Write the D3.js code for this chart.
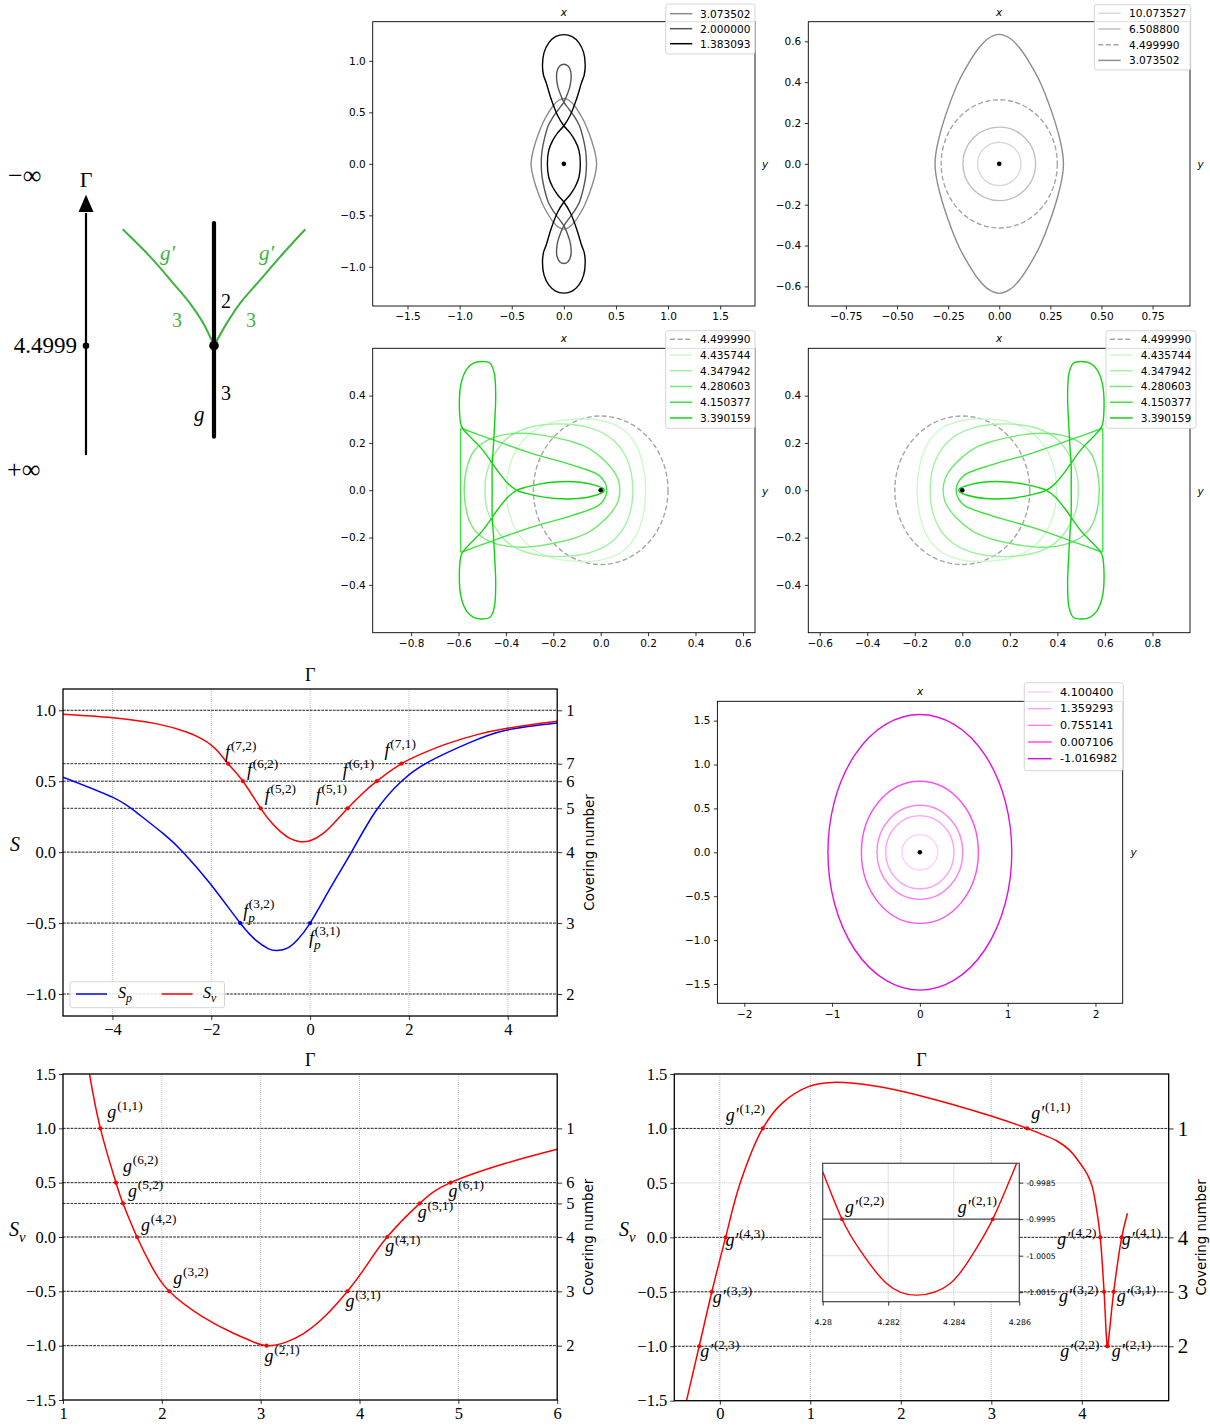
<!DOCTYPE html>
<html>
<head>
<meta charset="utf-8">
<script src="https://cdn.jsdelivr.net/npm/d3@7"></script>
<style>
  html, body { margin: 0; padding: 0; background: #fff; }
  svg { display: block; }
</style>
</head>
<body>
<svg id="fig" width="1210" height="1427"></svg>
<script>
const SERIF = "'Liberation Serif', 'Times New Roman', serif";
const SANS = "'DejaVu Sans', Verdana, sans-serif";

// ================= data =================

// Branch diagram: u horizontal, v vertical (bifurcation at v = 0)
const branchLeft  = [[-1, 1], [-0.70, 0.765], [-0.446, 0.536], [-0.263, 0.364], [-0.117, 0.192], [0, 0]];
const branchRight = [[1, 1], [0.759, 0.794], [0.504, 0.564], [0.285, 0.364], [0.139, 0.192], [0, 0]];
const trunkV = [-0.782, 1.054];
const gammaAxisU = -1.402;
const gammaAxisV = [-0.94, 1.297];
const gammaArrowBaseV = 1.149;
const gammaBifurcationLabel = "4.4999";

// Grey family (quarter curves from the top point to the y = 0 crossing)
const orbit3073502 = [[0, 0.634], [0.052, 0.615], [0.101, 0.566], [0.150, 0.492], [0.199, 0.402],
  [0.248, 0.279], [0.289, 0.149], [0.310, 0.051], [0.314, 0]];
const orbit2000000 = [[0, 0.967], [0.04, 0.95], [0.065, 0.9], [0.07, 0.84], [0.06, 0.76], [0.035, 0.68],
  [0, 0.6], [-0.05, 0.53], [-0.1, 0.46], [-0.148, 0.375], [-0.185, 0.25], [-0.21, 0.12], [-0.217, 0]];
const orbit1383093 = [[0, 1.255], [0.08, 1.235], [0.145, 1.175], [0.19, 1.08], [0.205, 0.96], [0.195, 0.86],
  [0.17, 0.79], [0.122, 0.63], [0.06, 0.47], [0, 0.37], [-0.06, 0.3], [-0.11, 0.22], [-0.145, 0.13], [-0.158, 0]];
// near-circular orbits: semi-axes [rx, ry]
const orbit10073527 = [0.106, 0.106];
const orbit6508800 = [0.178, 0.18];
const orbit4499990 = [0.284, 0.314];

// Green family (upper halves, right end -> left end)
const orbit4435744 = [[0.19, 0], [0.18, 0.1], [0.15, 0.19], [0.09, 0.26], [0.0, 0.295], [-0.11, 0.30],
  [-0.21, 0.285], [-0.29, 0.245], [-0.35, 0.18], [-0.385, 0.1], [-0.397, 0]];
const orbit4347942 = [[0.135, 0], [0.125, 0.09], [0.09, 0.17], [0.03, 0.23], [-0.05, 0.265], [-0.14, 0.279],
  [-0.23, 0.278], [-0.32, 0.26], [-0.40, 0.215], [-0.455, 0.14], [-0.482, 0.07], [-0.488, 0]];
const orbit4280603 = [[0.081, 0], [0.072, 0.05], [0.046, 0.093], [0.0, 0.14], [-0.052, 0.178], [-0.12, 0.205],
  [-0.193, 0.223], [-0.26, 0.235], [-0.333, 0.241], [-0.42, 0.232], [-0.49, 0.205], [-0.535, 0.165],
  [-0.562, 0.105], [-0.576, 0]];
// Γ = 4.150377: upper tongue (corner -> tip) and its straight back edge
const orbit4150377 = [[-0.589, 0.262], [-0.474, 0.22], [-0.291, 0.156], [-0.122, 0.107], [-0.01, 0.065],
  [0.019, 0.03], [0.026, 0]];
const orbit4150377Edge = [[-0.591, -0.262], [-0.591, 0.262]];
// Γ = 3.390159: full closed path
const orbit3390159 = [
  [0.015, 0], [0.011, 0.007], [-0.025, 0.022], [-0.095, 0.035], [-0.193, 0.035], [-0.265, 0.025], [-0.315, 0.013],
  [-0.354, 0], [-0.39, -0.027], [-0.432, -0.078], [-0.502, -0.175], [-0.558, -0.233], [-0.587, -0.27], [-0.596, -0.34],
  [-0.589, -0.452], [-0.565, -0.512], [-0.537, -0.537], [-0.502, -0.544],
  [-0.467, -0.537], [-0.449, -0.495], [-0.443, -0.396], [-0.446, -0.311], [-0.452, -0.2], [-0.458, -0.1], [-0.458, 0],
  [-0.458, 0.1], [-0.452, 0.2], [-0.446, 0.311], [-0.443, 0.396], [-0.449, 0.495], [-0.467, 0.537], [-0.502, 0.544],
  [-0.537, 0.537], [-0.565, 0.512], [-0.589, 0.452], [-0.596, 0.34], [-0.587, 0.27], [-0.558, 0.233],
  [-0.502, 0.175], [-0.432, 0.078], [-0.39, 0.027], [-0.354, 0],
  [-0.315, -0.013], [-0.265, -0.025], [-0.193, -0.035], [-0.095, -0.035], [-0.025, -0.022], [0.011, -0.007]
];

// Magenta family: semi-axes [rx, ry]
const pinkRadii = [[0.204, 0.201], [0.389, 0.418], [0.489, 0.536], [0.666, 0.81], [1.047, 1.57]];

// Legend labels
const legendGreyA = ["3.073502", "2.000000", "1.383093"];
const legendGreyB = ["10.073527", "6.508800", "4.499990", "3.073502"];
const legendGreen = ["4.499990", "4.435744", "4.347942", "4.280603", "4.150377", "3.390159"];
const legendPink = ["4.100400", "1.359293", "0.755141", "0.007106", "-1.016982"];

// Tick values
const ticksP1x = [-1.5, -1.0, -0.5, 0, 0.5, 1.0, 1.5];
const ticksP1y = [-1.0, -0.5, 0, 0.5, 1.0];
const ticksP2x = [-0.75, -0.5, -0.25, 0, 0.25, 0.5, 0.75];
const ticksP2y = [-0.6, -0.4, -0.2, 0, 0.2, 0.4, 0.6];
const ticksP3x = [-0.8, -0.6, -0.4, -0.2, 0, 0.2, 0.4, 0.6];
const ticksP4x = [-0.6, -0.4, -0.2, 0, 0.2, 0.4, 0.6, 0.8];
const ticksGreenY = [-0.4, -0.2, 0, 0.2, 0.4];
const ticksPinkX = [-2, -1, 0, 1, 2];
const ticksPinkY = [-1.5, -1.0, -0.5, 0, 0.5, 1.0, 1.5];

// Stability index S versus Γ
const gammaSv = [-5, -4, -3.12, -2.5, -2.2, -2.0, -1.84, -1.66, -1.36, -1.0, -0.76, -0.6, -0.4, -0.2, 0, 0.26, 0.5,
  0.76, 1.05, 1.35, 1.85, 2.3, 2.78, 3.4, 3.96, 4.5, 5];
const valSv = [0.972, 0.948, 0.906, 0.847, 0.8, 0.755, 0.7, 0.6235, 0.5, 0.309, 0.2, 0.145, 0.095, 0.074, 0.08,
  0.13, 0.21, 0.309, 0.41, 0.5, 0.6235, 0.7, 0.765, 0.83, 0.871, 0.9, 0.922];
const gammaSp = [-5, -4, -3.52, -2.97, -2.57, -2.02, -1.415, -1.1, -0.85, -0.667, -0.45, -0.25, 0.0, 0.42, 0.837,
  1.33, 1.85, 2.39, 3.18, 3.96, 5];
const valSp = [0.529, 0.388, 0.282, 0.13, 0, -0.223, -0.5, -0.62, -0.68, -0.694, -0.675, -0.615, -0.5, -0.247, 0,
  0.29, 0.5, 0.635, 0.765, 0.859, 0.91];
const fvGamma = [-1.66, -1.36, -1.0, 0.76, 1.35, 1.85];
const fvS = [0.6235, 0.5, 0.309, 0.309, 0.5, 0.6235];
const fvSup = ["(7,2)", "(6,2)", "(5,2)", "(5,1)", "(6,1)", "(7,1)"];
const fpGamma = [-1.415, 0.0];
const fpS = [-0.5, -0.5];
const fpSup = ["(3,2)", "(3,1)"];
const coverLevelsS = [1.0, 0.6235, 0.5, 0.309, 0.0, -0.5, -1.0];
const coverNumbersS = ["1", "7", "6", "5", "4", "3", "2"];
const ticksSx = [-4, -2, 0, 2, 4];
const ticksSy = [-1.0, -0.5, 0.0, 0.5, 1.0];

// Sv along branch g
const gammaG = [1.268, 1.378, 1.536, 1.607, 1.749, 1.898, 2.075, 2.41, 2.725, 2.9, 3.059, 3.25, 3.433, 3.65,
  3.878, 4.063, 4.28, 4.61, 4.921, 5.48, 6.0];
const valG = [1.5, 1.0, 0.5, 0.309, 0, -0.273, -0.5, -0.733, -0.886, -0.955, -1.0, -0.97, -0.89, -0.73,
  -0.5, -0.273, 0, 0.309, 0.5, 0.678, 0.807];
const gMarkGamma = [1.378, 1.536, 1.607, 1.749, 2.075, 3.059, 3.878, 4.28, 4.61, 4.921];
const gMarkS = [1.0, 0.5, 0.309, 0, -0.5, -1.0, -0.5, 0, 0.309, 0.5];
const gMarkSup = ["(1,1)", "(6,2)", "(5,2)", "(4,2)", "(3,2)", "(2,1)", "(3,1)", "(4,1)", "(5,1)", "(6,1)"];
const coverLevelsG = [1.0, 0.5, 0.309, 0.0, -0.5, -1.0];
const coverNumbersG = ["1", "6", "5", "4", "3", "2"];
const ticksGx = [1, 2, 3, 4, 5, 6];
const ticksBy = [-1.5, -1.0, -0.5, 0.0, 0.5, 1.0, 1.5];

// Sv along branch g'
const gammaGp = [-0.368, -0.228, -0.088, 0.064, 0.224, 0.474, 0.69, 0.986, 1.24, 1.747, 2.17, 3.015, 3.396,
  3.735, 3.861, 3.946, 4.031, 4.073, 4.115, 4.14, 4.17, 4.204, 4.246, 4.2807, 4.2829, 4.2852, 4.352, 4.441, 4.504];
const valGp = [-1.5, -1.0, -0.5, 0, 0.497, 1.0, 1.233, 1.386, 1.423, 1.386, 1.31, 1.11, 1.0,
  0.88, 0.803, 0.72, 0.619, 0.558, 0.466, 0.37, 0.22, 0, -0.5, -0.9995, -1.0016, -0.9995, -0.5, 0, 0.221];
const gpMarkGamma = [0.474, 3.396, 0.064, -0.088, -0.228, 4.204, 4.246, 4.2807, 4.441, 4.352, 4.2852];
const gpMarkS = [1.0, 1.0, 0, -0.5, -1.0, 0, -0.5, -0.9995, 0, -0.5, -0.9995];
const gpMarkSup = ["(1,2)", "(1,1)", "(4,3)", "(3,3)", "(2,3)", "(4,2)", "(3,2)", "(2,2)", "(4,1)", "(3,1)", "(2,1)"];
const coverLevelsGp = [1.0, 0.0, -0.5, -1.0];
const coverNumbersGp = ["1", "4", "3", "2"];
const ticksGpx = [0, 1, 2, 3, 4];

// Zoom near the minimum of branch g'
const insetGamma = [4.28, 4.28059, 4.28114, 4.28195, 4.28287, 4.28389, 4.2846, 4.28519, 4.28592];
const insetSv = [-0.9982, -0.9995, -1.00035, -1.00126, -1.00158, -1.00126, -1.00043, -0.9995, -0.99797];
const insetMarkGamma = [4.28059, 4.28519];
const insetMarkS = [-0.9995, -0.9995];
const insetMarkSup = ["(2,2)", "(2,1)"];
const insetLevel = -0.9995;
const insetTicksX = [4.28, 4.282, 4.284, 4.286];
const insetTickLabelsX = ["4.28", "4.282", "4.284", "4.286"];
const insetTicksY = [-0.9985, -0.9995, -1.0005, -1.0015];
const insetTickLabelsY = ["-0.9985", "-0.9995", "-1.0005", "-1.0015"];

// ================= helpers =================
const svg = d3.select("#fig");
let clipCount = 0;

// closed curve from a quarter (x -> -x and y -> -y symmetric)
function closeQuarter(q) {
  const n = q.length;
  const s2 = q.slice(0, n - 1).reverse().map(([a, b]) => [a, -b]);
  const s3 = q.slice(1).map(([a, b]) => [-a, -b]);
  const s4 = q.slice(1, n - 1).reverse().map(([a, b]) => [-a, b]);
  return [...q, ...s2, ...s3, ...s4];
}
// closed curve from an upper half (y -> -y symmetric)
function closeHalf(h) {
  const n = h.length;
  return [...h, ...h.slice(1, n - 1).reverse().map(([a, b]) => [a, -b])];
}
// tongue: upper half plus its mirror image
function openTongue(h) {
  return [...h, ...h.slice(0, h.length - 1).reverse().map(([a, b]) => [a, -b])];
}
const flipX = pts => pts.map(([a, b]) => [-a, b]);

function makeClip(x0, y0, w, h) {
  const id = "clip" + (clipCount++);
  svg.append("clipPath").attr("id", id).append("rect")
    .attr("x", x0).attr("y", y0).attr("width", w).attr("height", h);
  return `url(#${id})`;
}

function styleAxis(sel, font, size) {
  sel.attr("font-family", font).attr("font-size", size);
  sel.select(".domain").remove();
  sel.selectAll(".tick line").attr("stroke", "#000").attr("stroke-width", 0.8);
  sel.selectAll(".tick text").attr("fill", "#000");
}

function mathLabel(sel, x, y, base, opts = {}) {
  const size = opts.size || 18;
  const small = size * 0.74;
  const t = sel.append("text").attr("x", x).attr("y", y)
    .attr("font-family", SERIF).attr("font-size", size).attr("fill", opts.color || "#000");
  t.append("tspan").attr("font-style", "italic").text(base + (opts.prime ? "\u2032" : ""));
  if (opts.sub) {
    t.append("tspan").attr("font-style", "italic").attr("font-size", small).attr("dy", size * 0.28).text(opts.sub);
  }
  if (opts.sup) {
    t.append("tspan").attr("font-size", small)
      .attr("dx", opts.sub ? -small * 0.45 : 0.8)
      .attr("dy", opts.sub ? -size * 0.78 : -size * 0.45)
      .text(opts.sup);
  }
  return t;
}

// ================= branch diagram =================
(function drawDiagram() {
  const u = d3.scaleLinear().domain([-1, 1]).range([122.7, 305.3]);
  const v = d3.scaleLinear().domain([0, 1]).range([345.7, 229.3]);
  const g = svg.append("g");
  const green = "#3cb43c";
  const ax = u(gammaAxisU);
  g.append("line").attr("x1", ax).attr("x2", ax)
    .attr("y1", v(gammaAxisV[0])).attr("y2", v(gammaArrowBaseV) + 1)
    .attr("stroke", "#000").attr("stroke-width", 2.2);
  g.append("path")
    .attr("d", `M${ax},${v(gammaAxisV[1])} L${ax - 7.5},${v(gammaArrowBaseV)} L${ax + 7.5},${v(gammaArrowBaseV)} Z`)
    .attr("fill", "#000");
  g.append("circle").attr("cx", ax).attr("cy", v(0)).attr("r", 3.3).attr("fill", "#000");

  const line = d3.line().x(d => u(d[0])).y(d => v(d[1])).curve(d3.curveCatmullRom);
  [branchLeft, branchRight].forEach(b => {
    g.append("path").attr("d", line(b)).attr("fill", "none").attr("stroke", green).attr("stroke-width", 2);
  });
  g.append("line").attr("x1", u(0)).attr("x2", u(0)).attr("y1", v(trunkV[0])).attr("y2", v(trunkV[1]))
    .attr("stroke", "#000").attr("stroke-width", 4.2).attr("stroke-linecap", "round");
  g.append("circle").attr("cx", u(0)).attr("cy", v(0)).attr("r", 4.8).attr("fill", "#000");

  const txt = (x, y, s, opts = {}) => g.append("text").attr("x", x).attr("y", y)
    .attr("font-family", SERIF).attr("font-size", opts.size || 21)
    .attr("font-style", opts.italic ? "italic" : "normal")
    .attr("text-anchor", opts.anchor || "start")
    .attr("fill", opts.color || "#000").text(s);
  txt(8, 184, "\u2212\u221e", { size: 26 });
  txt(7, 478, "+\u221e", { size: 26 });
  txt(ax, 187, "\u0393", { size: 22, anchor: "middle" });
  txt(77, 353, gammaBifurcationLabel, { size: 23, anchor: "end" });
  txt(221, 308, "2", { size: 20 });
  txt(221, 400, "3", { size: 20 });
  txt(194, 421, "g", { size: 21, italic: true });
  txt(160, 260, "g\u2032", { size: 21, italic: true, color: green });
  txt(259, 260, "g\u2032", { size: 21, italic: true, color: green });
  txt(172, 327, "3", { size: 20, color: green });
  txt(246, 327, "3", { size: 20, color: green });
})();

// ================= orbit panels =================
function orbitPanel(cfg) {
  const x = d3.scaleLinear().domain(cfg.xDomain).range([cfg.left, cfg.right]);
  const y = d3.scaleLinear().domain(cfg.yDomain).range([cfg.bottom, cfg.top]);
  const g = svg.append("g");
  const plot = g.append("g").attr("clip-path", makeClip(cfg.left, cfg.top, cfg.right - cfg.left, cfg.bottom - cfg.top));
  const closed = d3.line().x(d => x(d[0])).y(d => y(d[1])).curve(d3.curveCatmullRomClosed.alpha(0.5));
  const open = d3.line().x(d => x(d[0])).y(d => y(d[1])).curve(d3.curveCatmullRom.alpha(0.5));
  const lin = d3.line().x(d => x(d[0])).y(d => y(d[1]));
  const lw = 1.4;
  cfg.curves.forEach(c => {
    if (c.type === "ellipse") {
      plot.append("ellipse").attr("cx", x(0)).attr("cy", y(0))
        .attr("rx", x(c.r[0]) - x(0)).attr("ry", y(0) - y(c.r[1]))
        .attr("fill", "none").attr("stroke", c.color).attr("stroke-width", lw)
        .attr("stroke-dasharray", c.dash || null);
      return;
    }
    const d = c.type === "closed" ? closed(c.pts) : (c.type === "open" ? open(c.pts) : lin(c.pts));
    plot.append("path").attr("d", d).attr("fill", "none").attr("stroke", c.color)
      .attr("stroke-width", lw).attr("stroke-linejoin", "round");
    if (c.extra) {
      plot.append("path").attr("d", lin(c.extra)).attr("fill", "none").attr("stroke", c.color)
        .attr("stroke-width", lw);
    }
  });
  plot.append("circle").attr("cx", x(0)).attr("cy", y(0)).attr("r", 2.3).attr("fill", "#000");

  g.append("rect").attr("x", cfg.left).attr("y", cfg.top)
    .attr("width", cfg.right - cfg.left).attr("height", cfg.bottom - cfg.top)
    .attr("fill", "none").attr("stroke", "#000").attr("stroke-width", 0.9);

  const fs = 10.5;
  g.append("g").attr("transform", `translate(0,${cfg.bottom})`)
    .call(d3.axisBottom(x).tickValues(cfg.xTicks).tickFormat(d3.format(cfg.xFmt)).tickSize(3.5).tickPadding(3.5))
    .call(s => styleAxis(s, SANS, fs));
  g.append("g").attr("transform", `translate(${cfg.left},0)`)
    .call(d3.axisLeft(y).tickValues(cfg.yTicks).tickFormat(d3.format(cfg.yFmt)).tickSize(3.5).tickPadding(3.5))
    .call(s => styleAxis(s, SANS, fs));

  g.append("text").attr("x", (cfg.left + cfg.right) / 2).attr("y", cfg.top - 6)
    .attr("text-anchor", "middle").attr("font-family", SANS).attr("font-style", "italic")
    .attr("font-size", fs).text("x");
  g.append("text").attr("x", cfg.yLabelX).attr("y", (cfg.top + cfg.bottom) / 2 + 4)
    .attr("text-anchor", "middle").attr("font-family", SANS).attr("font-style", "italic")
    .attr("font-size", fs).text("y");

  // legend
  const L = cfg.legend;
  g.append("rect").attr("x", L.x0).attr("y", L.y0).attr("width", L.x1 - L.x0).attr("height", L.y1 - L.y0)
    .attr("rx", 2.5).attr("fill", "#fff").attr("fill-opacity", 0.85)
    .attr("stroke", "#d0d0d0").attr("stroke-width", 0.9);
  cfg.curves.forEach((c, i) => {
    const ry = L.row0 + i * L.step;
    g.append("line").attr("x1", L.lx0).attr("x2", L.lx1).attr("y1", ry).attr("y2", ry)
      .attr("stroke", c.color).attr("stroke-width", 1.5).attr("stroke-dasharray", c.dash || null);
    g.append("text").attr("x", L.tx).attr("y", ry + 3.8).attr("font-family", SANS)
      .attr("font-size", L.size || 10.6).attr("fill", "#000").text(cfg.labels[i]);
  });
}

const grey1 = "#8c8c8c", grey2 = "#555555", grey0 = "#000000";
const greyLight = "#d9d9d9", greyMid = "#bfbfbf", greyDash = "#a6a6a6";
const greens = ["#ccf8cc", "#a3f2a3", "#72ea72", "#3fe23f", "#10d410"];
const pinks = ["#ffcdf7", "#ffa2f4", "#ff7ff1", "#ff4cef", "#e010e0"];

orbitPanel({
  left: 372.7, right: 755, top: 21.7, bottom: 306,
  xDomain: [-1.834, 1.834], yDomain: [-1.38, 1.38],
  xTicks: ticksP1x, yTicks: ticksP1y, xFmt: ".1f", yFmt: ".1f", yLabelX: 765,
  labels: legendGreyA,
  curves: [
    { type: "closed", pts: closeQuarter(orbit3073502), color: grey1 },
    { type: "closed", pts: closeQuarter(orbit2000000), color: grey2 },
    { type: "closed", pts: closeQuarter(orbit1383093), color: grey0 }
  ],
  legend: { x0: 665.7, x1: 755, y0: 4, y1: 54, row0: 13.7, step: 15, lx0: 670, lx1: 692.3, tx: 700 }
});

orbitPanel({
  left: 808.3, right: 1190, top: 21.7, bottom: 306,
  xDomain: [-0.934, 0.933], yDomain: [-0.696, 0.696],
  xTicks: ticksP2x, yTicks: ticksP2y, xFmt: ".2f", yFmt: ".1f", yLabelX: 1200.5,
  labels: legendGreyB,
  curves: [
    { type: "ellipse", r: orbit10073527, color: greyLight },
    { type: "ellipse", r: orbit6508800, color: greyMid },
    { type: "ellipse", r: orbit4499990, color: greyDash, dash: "5,2.6" },
    { type: "closed", pts: closeQuarter(orbit3073502), color: grey1 }
  ],
  legend: { x0: 1094.3, x1: 1190.7, y0: 4.7, y1: 70, row0: 13.3, step: 15.7, lx0: 1098.3, lx1: 1120.7, tx: 1129 }
});

function greenCurves(flip) {
  const f = flip ? flipX : (p => p);
  return [
    { type: "ellipse", r: orbit4499990, color: greyDash, dash: "5,2.6" },
    { type: "closed", pts: f(closeHalf(orbit4435744)), color: greens[0] },
    { type: "closed", pts: f(closeHalf(orbit4347942)), color: greens[1] },
    { type: "closed", pts: f(closeHalf(orbit4280603)), color: greens[2] },
    { type: "open", pts: f(openTongue(orbit4150377)), extra: f(orbit4150377Edge), color: greens[3] },
    { type: "closed", pts: f(orbit3390159), color: greens[4] }
  ];
}

orbitPanel({
  left: 372.7, right: 755, top: 348.3, bottom: 632.7,
  xDomain: [-0.962, 0.651], yDomain: [-0.602, 0.6],
  xTicks: ticksP3x, yTicks: ticksGreenY, xFmt: ".1f", yFmt: ".1f", yLabelX: 765,
  labels: legendGreen,
  curves: greenCurves(false),
  legend: { x0: 665.7, x1: 755, y0: 330.7, y1: 428.3, row0: 339.3, step: 15.73, lx0: 670, lx1: 692.3, tx: 700 }
});
orbitPanel({
  left: 808.3, right: 1190, top: 348.3, bottom: 632.7,
  xDomain: [-0.648, 0.958], yDomain: [-0.602, 0.6],
  xTicks: ticksP4x, yTicks: ticksGreenY, xFmt: ".1f", yFmt: ".1f", yLabelX: 1200.5,
  labels: legendGreen,
  curves: greenCurves(true),
  legend: { x0: 1106, x1: 1196, y0: 330.7, y1: 428.3, row0: 339.3, step: 15.73, lx0: 1110, lx1: 1132.7, tx: 1140.7 }
});

orbitPanel({
  left: 717.4, right: 1122.7, top: 701.3, bottom: 1003.3,
  xDomain: [-2.306, 2.31], yDomain: [-1.72, 1.72],
  xTicks: ticksPinkX, yTicks: ticksPinkY, xFmt: "d", yFmt: ".1f", yLabelX: 1133.5,
  labels: legendPink,
  curves: pinkRadii.map((r, i) => ({ type: "ellipse", r, color: pinks[i] })),
  legend: { x0: 1024.3, x1: 1123.3, y0: 682.7, y1: 770.6, row0: 692, step: 16.67, lx0: 1028, lx1: 1051.7, tx: 1060, size: 11.2 }
});

// ================= S versus Γ plots =================
function coverPlot(cfg) {
  const x = d3.scaleLinear().domain(cfg.xDomain).range([cfg.left, cfg.right]);
  const y = d3.scaleLinear().domain(cfg.yDomain).range([cfg.bottom, cfg.top]);
  const g = svg.append("g");
  const w = cfg.right - cfg.left, h = cfg.bottom - cfg.top;
  // grid
  g.selectAll(null).data(cfg.xTicks).join("line")
    .attr("x1", d => x(d)).attr("x2", d => x(d)).attr("y1", cfg.top).attr("y2", cfg.bottom)
    .attr("stroke", "#a8a8a8").attr("stroke-width", 0.7).attr("stroke-dasharray", "1,1");
  g.selectAll(null).data(cfg.yTicks).join("line")
    .attr("x1", cfg.left).attr("x2", cfg.right).attr("y1", d => y(d)).attr("y2", d => y(d))
    .attr("stroke", "#a8a8a8").attr("stroke-width", 0.7).attr("stroke-dasharray", "1,1");
  // covering-number levels
  g.selectAll(null).data(cfg.levels).join("line")
    .attr("x1", cfg.left).attr("x2", cfg.right).attr("y1", d => y(d)).attr("y2", d => y(d))
    .attr("stroke", "#111").attr("stroke-width", 0.9).attr("stroke-dasharray", "2.6,1.2");
  const plot = g.append("g").attr("clip-path", makeClip(cfg.left, cfg.top, w, h));
  const line = d3.line().x(d => x(d[0])).y(d => y(d[1])).curve(cfg.curve || d3.curveNatural);
  cfg.series.forEach(s => {
    plot.append("path").attr("d", line(d3.zip(s.gamma, s.val)))
      .attr("fill", "none").attr("stroke", s.color).attr("stroke-width", 1.5);
  });
  (cfg.marks || []).forEach(m => {
    plot.selectAll(null).data(d3.zip(m.gamma, m.val)).join("circle")
      .attr("cx", d => x(d[0])).attr("cy", d => y(d[1])).attr("r", 2.1).attr("fill", m.color);
  });
  g.append("rect").attr("x", cfg.left).attr("y", cfg.top).attr("width", w).attr("height", h)
    .attr("fill", "none").attr("stroke", "#000").attr("stroke-width", 1.3);

  const fs = 16.5;
  g.append("g").attr("transform", `translate(0,${cfg.bottom})`)
    .call(d3.axisBottom(x).tickValues(cfg.xTicks).tickFormat(d3.format("d")).tickSize(4).tickPadding(3))
    .call(s => styleAxis(s, SERIF, fs));
  g.append("g").attr("transform", `translate(${cfg.left},0)`)
    .call(d3.axisLeft(y).tickValues(cfg.yTicks).tickFormat(d3.format(".1f")).tickSize(4).tickPadding(3))
    .call(s => styleAxis(s, SERIF, fs));
  g.append("g").attr("transform", `translate(${cfg.right},0)`)
    .call(d3.axisRight(y).tickValues(cfg.levels).tickFormat((d, i) => cfg.numbers[i]).tickSize(5).tickPadding(4))
    .call(s => styleAxis(s, SERIF, cfg.rightSize || fs));

  g.append("text").attr("x", (cfg.left + cfg.right) / 2).attr("y", cfg.top - 8)
    .attr("text-anchor", "middle").attr("font-family", SERIF).attr("font-size", 18).text("\u0393");
  g.append("text")
    .attr("transform", `translate(${cfg.coverX},${(cfg.top + cfg.bottom) / 2}) rotate(-90)`)
    .attr("text-anchor", "middle").attr("dominant-baseline", "central")
    .attr("font-family", SANS).attr("font-size", 13.4).text("Covering number");
  mathLabel(g, cfg.yLabel.x, cfg.yLabel.y, cfg.yLabel.base, { sub: cfg.yLabel.sub, size: 20 });
  return { x, y, g };
}

// Labels next to marked points: [dx, dy] offsets from the marker
const fvOffsets = [[-3, -6], [4, -5], [4, -7], [-32, -7], [-34, -5], [-17, -8]];
const fpOffsets = [[3, -6], [-1, 21]];
const gOffsets = [[7, -10], [7, -11], [5, -6], [4, -6], [4, -7], [-2, 16], [-2, 16], [-2, 15], [-2, 15], [-2, 14]];
const gpOffsets = [[-37, -7], [4, -9], [0, 9], [1, 11], [1, 11], [-43, 8], [-45, 10], [-47, 11], [0, 8], [3, 10], [4, 11]];
const insetOffsets = [[3, -6], [-35, -6]];

const sPlot = coverPlot({
  left: 63, right: 557.2, top: 689, bottom: 1016,
  xDomain: [-5, 5], yDomain: [-1.155, 1.15],
  xTicks: ticksSx, yTicks: ticksSy, levels: coverLevelsS, numbers: coverNumbersS,
  coverX: 589.5, yLabel: { x: 10, y: 851, base: "S" },
  series: [
    { gamma: gammaSp, val: valSp, color: "#0000ff" },
    { gamma: gammaSv, val: valSv, color: "#ff0000" }
  ],
  marks: [
    { gamma: fvGamma, val: fvS, color: "#ff0000" },
    { gamma: fpGamma, val: fpS, color: "#0000ff" }
  ]
});
fvGamma.forEach((gm, i) => mathLabel(sPlot.g, sPlot.x(gm) + fvOffsets[i][0], sPlot.y(fvS[i]) + fvOffsets[i][1], "f", { sup: fvSup[i] }));
fpGamma.forEach((gm, i) => mathLabel(sPlot.g, sPlot.x(gm) + fpOffsets[i][0], sPlot.y(fpS[i]) + fpOffsets[i][1], "f", { sub: "p", sup: fpSup[i] }));
// legend
(function () {
  const g = sPlot.g;
  g.append("rect").attr("x", 70).attr("y", 981.7).attr("width", 154.5).attr("height", 26).attr("rx", 2.5)
    .attr("fill", "#fff").attr("fill-opacity", 0.85).attr("stroke", "#d0d0d0").attr("stroke-width", 0.9);
  const rows = [{ c: "#0000ff", x0: 76, x1: 107, tx: 118, sub: "p" }, { c: "#ff0000", x0: 161.5, x1: 192.6, tx: 203, sub: "v" }];
  rows.forEach(r => {
    g.append("line").attr("x1", r.x0).attr("x2", r.x1).attr("y1", 994).attr("y2", 994)
      .attr("stroke", r.c).attr("stroke-width", 1.5);
    mathLabel(g, r.tx, 998, "S", { sub: r.sub, size: 16 });
  });
})();

const gPlot = coverPlot({
  left: 63, right: 557.2, top: 1074, bottom: 1400,
  xDomain: [1, 6], yDomain: [-1.5, 1.5],
  xTicks: ticksGx, yTicks: ticksBy, levels: coverLevelsG, numbers: coverNumbersG,
  coverX: 588.3, yLabel: { x: 9, y: 1236, base: "S", sub: "v" },
  series: [{ gamma: gammaG, val: valG, color: "#ff0000" }],
  marks: [{ gamma: gMarkGamma, val: gMarkS, color: "#ff0000" }]
});
gMarkGamma.forEach((gm, i) => mathLabel(gPlot.g, gPlot.x(gm) + gOffsets[i][0], gPlot.y(gMarkS[i]) + gOffsets[i][1], "g", { sup: gMarkSup[i] }));

const gpPlot = coverPlot({
  left: 674.3, right: 1168.7, top: 1074, bottom: 1400.7,
  xDomain: [-0.503, 4.96], yDomain: [-1.5, 1.5],
  xTicks: ticksGpx, yTicks: ticksBy, levels: coverLevelsGp, numbers: coverNumbersGp, rightSize: 21,
  coverX: 1201.3, yLabel: { x: 619, y: 1236, base: "S", sub: "v" },
  curve: d3.curveCatmullRom.alpha(0.5),
  series: [{ gamma: gammaGp, val: valGp, color: "#ff0000" }],
  marks: [{ gamma: gpMarkGamma, val: gpMarkS, color: "#ff0000" }]
});
gpMarkGamma.forEach((gm, i) => mathLabel(gpPlot.g, gpPlot.x(gm) + gpOffsets[i][0], gpPlot.y(gpMarkS[i]) + gpOffsets[i][1], "g", { prime: true, sup: gpMarkSup[i] }));

// ---- inset ----
(function drawInset() {
  const L = 822.7, R = 1019.3, T = 1163.3, B = 1301.7;
  const x = d3.scaleLinear().domain([4.28, 4.286]).range([L, R]);
  const y = d3.scaleLinear().domain([-1.00176, -0.99797]).range([B, T]);
  const g = gpPlot.g.append("g");
  g.append("rect").attr("x", L).attr("y", T).attr("width", R - L).attr("height", B - T).attr("fill", "#fff");
  g.selectAll(null).data(insetTicksX.slice(1, 3)).join("line")
    .attr("x1", d => x(d)).attr("x2", d => x(d)).attr("y1", T).attr("y2", B)
    .attr("stroke", "#a8a8a8").attr("stroke-width", 0.7).attr("stroke-dasharray", "1,1");
  g.selectAll(null).data(insetTicksY.filter(d => d !== insetLevel)).join("line")
    .attr("x1", L).attr("x2", R).attr("y1", d => y(d)).attr("y2", d => y(d))
    .attr("stroke", "#a8a8a8").attr("stroke-width", 0.7).attr("stroke-dasharray", "1,1");
  g.append("line").attr("x1", L).attr("x2", R).attr("y1", y(insetLevel)).attr("y2", y(insetLevel))
    .attr("stroke", "#444").attr("stroke-width", 1.4);
  const plot = g.append("g").attr("clip-path", makeClip(L, T, R - L, B - T));
  plot.append("path")
    .attr("d", d3.line().x(d => x(d[0])).y(d => y(d[1])).curve(d3.curveNatural)(d3.zip(insetGamma, insetSv)))
    .attr("fill", "none").attr("stroke", "#ff0000").attr("stroke-width", 1.4);
  plot.selectAll(null).data(d3.zip(insetMarkGamma, insetMarkS)).join("circle")
    .attr("cx", d => x(d[0])).attr("cy", d => y(d[1])).attr("r", 2).attr("fill", "#ff0000");
  g.append("rect").attr("x", L).attr("y", T).attr("width", R - L).attr("height", B - T)
    .attr("fill", "none").attr("stroke", "#444").attr("stroke-width", 1.2);
  g.append("g").attr("transform", `translate(0,${B})`)
    .call(d3.axisBottom(x).tickValues(insetTicksX).tickFormat((d, i) => insetTickLabelsX[i]).tickSize(4).tickPadding(14))
    .call(s => styleAxis(s, SANS, 7.8));
  g.append("g").attr("transform", `translate(${R},0)`)
    .call(d3.axisRight(y).tickValues(insetTicksY).tickFormat((d, i) => insetTickLabelsY[i]).tickSize(4).tickPadding(3))
    .call(s => styleAxis(s, SANS, 7.6));
  insetMarkGamma.forEach((gm, i) => mathLabel(g, x(gm) + insetOffsets[i][0], y(insetMarkS[i]) + insetOffsets[i][1], "g", { prime: true, sup: insetMarkSup[i] }));
})();
</script>
</body>
</html>
